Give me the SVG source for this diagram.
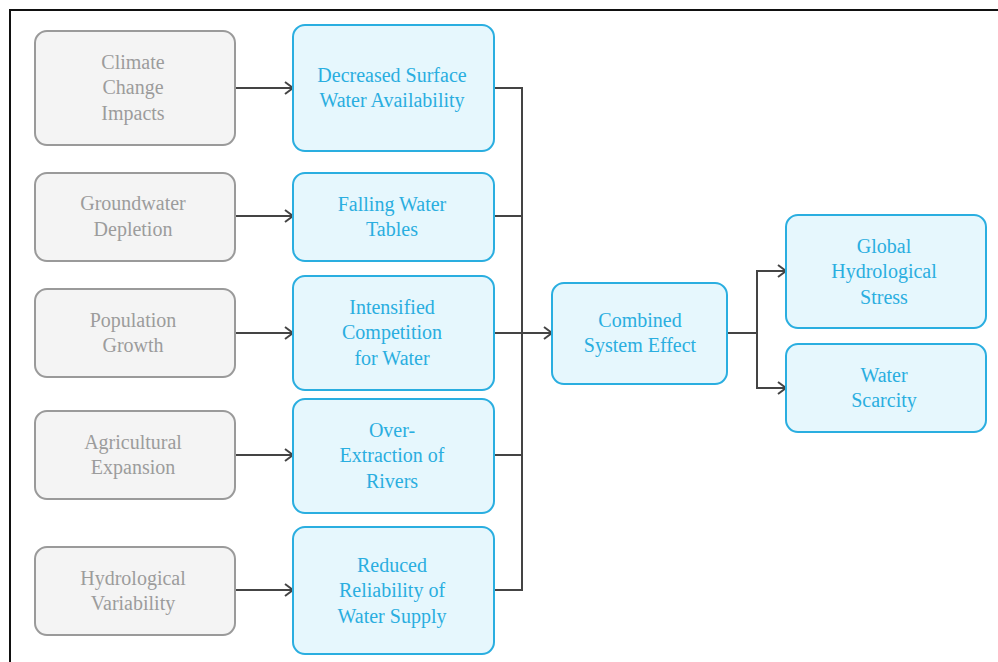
<svg xmlns="http://www.w3.org/2000/svg" width="998" height="662" viewBox="0 0 998 662">
<defs>
<style>
.g rect{fill:#f4f4f4;stroke:#9a9a9a;stroke-width:2}
.b rect{fill:#e6f7fd;stroke:#2aaee0;stroke-width:2}
text{font-family:'Liberation Serif','Times New Roman',serif;font-size:20px;text-anchor:middle}
.g text{fill:#9c9c9c}
.b text{fill:#2aaee0}
.c path{fill:none;stroke:#444;stroke-width:2}
</style>
<marker id="ah" markerWidth="12" markerHeight="14" refX="10" refY="7" orient="auto" markerUnits="userSpaceOnUse">
<path d="M2,1 L10,7 L2,13" fill="none" stroke="#444" stroke-width="2"/>
</marker>
</defs>
<rect width="998" height="662" fill="#fff"/>
<path d="M10,662 V10 H998" fill="none" stroke="#111" stroke-width="2"/>
<g class="c">
<path d="M235,88 H293" marker-end="url(#ah)"/>
<path d="M235,216 H293" marker-end="url(#ah)"/>
<path d="M235,333 H293" marker-end="url(#ah)"/>
<path d="M235,455 H293" marker-end="url(#ah)"/>
<path d="M235,590 H293" marker-end="url(#ah)"/>
<path d="M494,88 H522 V590 H494"/>
<path d="M494,216 H522"/>
<path d="M494,455 H522"/>
<path d="M494,333 H552" marker-end="url(#ah)"/>
<path d="M727,333 H757"/>
<path d="M786,271 H757 V388 H786"/>
<path d="M757,271 H786" marker-end="url(#ah)"/>
<path d="M757,388 H786" marker-end="url(#ah)"/>
</g>
<g id="n1" class="g"><rect x="35" y="31" width="200" height="114" rx="12"/><text x="133" y="69">Climate</text><text x="133" y="94">Change</text><text x="133" y="120">Impacts</text></g>
<g id="n2" class="g"><rect x="35" y="173" width="200" height="88" rx="12"/><text x="133" y="210">Groundwater</text><text x="133" y="236">Depletion</text></g>
<g id="n3" class="g"><rect x="35" y="289" width="200" height="88" rx="12"/><text x="133" y="327">Population</text><text x="133" y="352">Growth</text></g>
<g id="n4" class="g"><rect x="35" y="411" width="200" height="88" rx="12"/><text x="133" y="449">Agricultural</text><text x="133" y="474">Expansion</text></g>
<g id="n5" class="g"><rect x="35" y="547" width="200" height="88" rx="12"/><text x="133" y="585">Hydrological</text><text x="133" y="610">Variability</text></g>
<g id="m1" class="b"><rect x="293" y="25" width="201" height="126" rx="12"/><text x="392" y="82">Decreased Surface</text><text x="392" y="107">Water Availability</text></g>
<g id="m2" class="b"><rect x="293" y="173" width="201" height="88" rx="12"/><text x="392" y="211">Falling Water</text><text x="392" y="236">Tables</text></g>
<g id="m3" class="b"><rect x="293" y="276" width="201" height="114" rx="12"/><text x="392" y="314">Intensified</text><text x="392" y="339">Competition</text><text x="392" y="365">for Water</text></g>
<g id="m4" class="b"><rect x="293" y="399" width="201" height="114" rx="12"/><text x="392" y="437">Over-</text><text x="392" y="462">Extraction of</text><text x="392" y="488">Rivers</text></g>
<g id="m5" class="b"><rect x="293" y="527" width="201" height="127" rx="12"/><text x="392" y="572">Reduced</text><text x="392" y="597">Reliability of</text><text x="392" y="623">Water Supply</text></g>
<g id="c1" class="b"><rect x="552" y="283" width="175" height="101" rx="12"/><text x="640" y="327">Combined</text><text x="640" y="352">System Effect</text></g>
<g id="o1" class="b"><rect x="786" y="215" width="200" height="113" rx="12"/><text x="884" y="253">Global</text><text x="884" y="278">Hydrological</text><text x="884" y="304">Stress</text></g>
<g id="o2" class="b"><rect x="786" y="344" width="200" height="88" rx="12"/><text x="884" y="382">Water</text><text x="884" y="407">Scarcity</text></g>
</svg>
